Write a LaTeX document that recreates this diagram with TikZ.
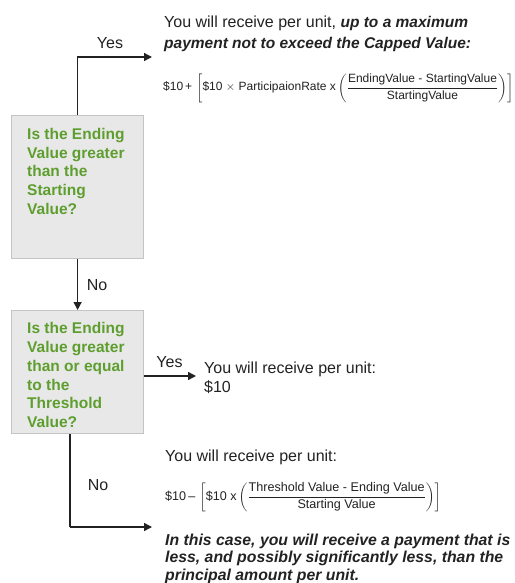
\documentclass[tikz,border=0pt]{standalone}
\usepackage{fontspec}
\usepackage{amsmath}
\setmainfont{Liberation Sans}
\usetikzlibrary{arrows.meta}
\definecolor{qgreen}{HTML}{5E9E2E}
\definecolor{boxfill}{HTML}{E8E8E8}
\definecolor{boxline}{HTML}{C4C4C4}
\definecolor{ink}{HTML}{222222}
\newcommand{\bigbi}[1]{{\fontsize{15.5}{21}\selectfont\bfseries\itshape #1}}
\tikzset{
  qbox/.style={draw=boxline, line width=1.2pt, fill=boxfill, anchor=north west, inner sep=0pt},
  qtext/.style={anchor=north west, inner sep=0pt, align=left, text=qgreen,
     font=\fontsize{15.5}{18.7}\selectfont\bfseries},
  body/.style={anchor=north west, inner sep=0pt, align=left, text=ink, font=\fontsize{16}{19}\selectfont},
  lbl/.style={inner sep=0pt, text=ink, font=\fontsize{16}{18}\selectfont},
  frm/.style={anchor=west, inner sep=0pt, text=ink, font=\fontsize{12}{14}\selectfont},
  conn/.style={draw=ink, line width=1.4pt},
  arr/.style={conn, -{Triangle[length=8pt,width=8pt]}},
}
\begin{document}
\begin{tikzpicture}[x=1pt,y=-1pt]
\useasboundingbox (0,0) rectangle (514,583);
\node[qbox, minimum width=132pt, minimum height=143pt] (box1) at (11,115) {};
\node[qtext] (q1) at (27,128) {Is the Ending\\Value greater\\than the\\Starting\\Value?};
\node[qbox, minimum width=132pt, minimum height=123pt] (box2) at (11,310) {};
\node[qtext] (q2) at (27,322.5) {Is the Ending\\Value greater\\than or equal\\to the\\Threshold\\Value?};

% top outcome
\node[body, font=\fontsize{16}{21}\selectfont] (top) at (164,15.5) {You will receive per unit, \bigbi{up to a maximum}\\\bigbi{payment not to exceed the Capped Value:}};
\node[frm] (f1) at (163,88) {$\mbox{\$10\,+\,}\left[\mbox{\$10 $\times$ ParticipaionRate x}\left(\dfrac{\mbox{EndingValue - StartingValue}}{\mbox{StartingValue}}\right)\right]$};
\coordinate (yes1) at (152,57);
\draw[arr] (box1.north) |- (yes1);
\node[lbl] (yes1l) at (110,43) {Yes};

% No 1
\draw[arr] (box1.south) -- (box2.north);
\node[lbl] (no1l) at (97,285) {No};

% Yes 2
\coordinate (yes2) at (196,376);
\draw[arr] (box2.east |- yes2) -- (yes2);
\node[lbl] (yes2l) at (169.5,362) {Yes};
\node[body] (mid) at (204,361.5) {You will receive per unit:\\\$10};

% No 2
\coordinate (no2c) at (70,527);
\coordinate (no2) at (152,527);
\draw[conn] (box2.south -| no2c) -- (no2c);
\draw[arr] (no2c) -- (no2);
\node[lbl] (no2l) at (98,485) {No};
\node[body] (bot) at (165,450) {You will receive per unit:};
\node[frm, font=\fontsize{12.6}{15}\selectfont] (f2) at (165,497) {$\mbox{\$10\,--\,}\left[\mbox{\$10 x}\left(\dfrac{\mbox{Threshold Value - Ending Value}}{\mbox{Starting Value}}\right)\right]$};
\node[body, font=\fontsize{15.8}{17.5}\selectfont\bfseries\itshape] (note) at (165,533.5) {In this case, you will receive a payment that is\\less, and possibly significantly less, than the\\principal amount per unit.};
\end{tikzpicture}
\end{document}
